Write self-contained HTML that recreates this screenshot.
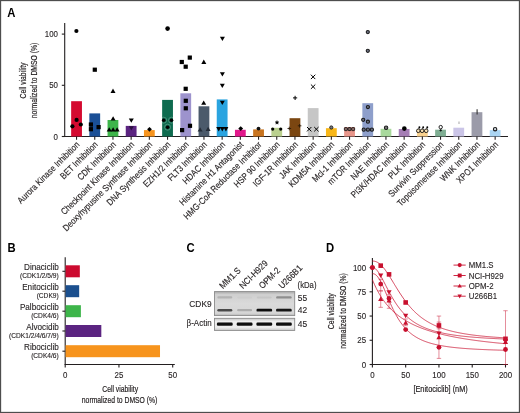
<!DOCTYPE html>
<html><head><meta charset="utf-8"><style>
html,body{margin:0;padding:0;background:#fff;}
svg{display:block;font-family:"Liberation Sans", sans-serif;filter:blur(0.3px);}
text{opacity:0.995;}
</style></head><body>
<svg width="520" height="413" viewBox="0 0 520 413">
<rect width="520" height="413" fill="#fff"/>
<rect x="0.5" y="0.5" width="519" height="412" fill="none" stroke="#4d4d4d" stroke-width="1.3"/>
<text transform="translate(7.30,17.40) scale(0.95,1)" font-size="11.9" text-anchor="start" font-weight="bold" fill="#000" >A</text>
<text transform="translate(7.60,251.70) scale(0.95,1)" font-size="11.9" text-anchor="start" font-weight="bold" fill="#000" >B</text>
<text transform="translate(186.60,251.70) scale(0.95,1)" font-size="11.9" text-anchor="start" font-weight="bold" fill="#000" >C</text>
<text transform="translate(326.10,251.80) scale(0.95,1)" font-size="11.9" text-anchor="start" font-weight="bold" fill="#000" >D</text>
<line x1="64.70" y1="23.00" x2="64.70" y2="137.00" stroke="#231f20" stroke-width="1.1"/>
<line x1="64.20" y1="136.50" x2="508.00" y2="136.50" stroke="#231f20" stroke-width="1.1"/>
<line x1="61.80" y1="136.50" x2="64.70" y2="136.50" stroke="#231f20" stroke-width="1.1"/>
<text transform="translate(58.00,139.50) scale(0.92,1)" font-size="8.6" text-anchor="end" font-weight="normal" fill="#231f20"  stroke="#231f20" stroke-width="0.12">0</text>
<line x1="61.80" y1="85.30" x2="64.70" y2="85.30" stroke="#231f20" stroke-width="1.1"/>
<text transform="translate(58.00,88.30) scale(0.92,1)" font-size="8.6" text-anchor="end" font-weight="normal" fill="#231f20"  stroke="#231f20" stroke-width="0.12">50</text>
<line x1="61.80" y1="34.10" x2="64.70" y2="34.10" stroke="#231f20" stroke-width="1.1"/>
<text transform="translate(58.00,37.10) scale(0.92,1)" font-size="8.6" text-anchor="end" font-weight="normal" fill="#231f20"  stroke="#231f20" stroke-width="0.12">100</text>
<g transform="translate(25.8,80.5) rotate(-90) scale(0.74,1)"><text x="0" y="0" font-size="9.2" text-anchor="middle" fill="#231f20" stroke="#231f20" stroke-width="0.2">Cell viability</text></g>
<g transform="translate(37.2,80.5) rotate(-90) scale(0.74,1)"><text x="0" y="0" font-size="9.2" text-anchor="middle" fill="#231f20" stroke="#231f20" stroke-width="0.2">normalized to DMSO (%)</text></g>
<rect x="71.15" y="101.20" width="10.8" height="35.30" fill="#d40a30"/>
<rect x="89.35" y="113.40" width="10.8" height="23.10" fill="#1a4f96"/>
<rect x="107.55" y="120.00" width="10.8" height="16.50" fill="#3db54a"/>
<rect x="125.75" y="125.90" width="10.8" height="10.60" fill="#5b2481"/>
<rect x="143.95" y="130.10" width="10.8" height="6.40" fill="#f7941d"/>
<rect x="162.15" y="99.90" width="10.8" height="36.60" fill="#0e6b4f"/>
<rect x="180.35" y="93.30" width="10.8" height="43.20" fill="#9d93cd"/>
<rect x="198.55" y="106.30" width="10.8" height="30.20" fill="#4b5a6b"/>
<rect x="216.75" y="99.40" width="10.8" height="37.10" fill="#2aa4e0"/>
<rect x="234.95" y="129.80" width="10.8" height="6.70" fill="#e2188c"/>
<rect x="253.15" y="129.40" width="10.8" height="7.10" fill="#c8741f"/>
<rect x="271.35" y="127.80" width="10.8" height="8.70" fill="#bad08f"/>
<rect x="289.55" y="118.20" width="10.8" height="18.30" fill="#7b4611"/>
<rect x="307.75" y="108.10" width="10.8" height="28.40" fill="#c6c6c6"/>
<rect x="325.95" y="128.20" width="10.8" height="8.30" fill="#f8b719"/>
<rect x="344.15" y="127.10" width="10.8" height="9.40" fill="#e8968b"/>
<rect x="362.35" y="103.20" width="10.8" height="33.30" fill="#8e9fcb"/>
<rect x="380.55" y="128.80" width="10.8" height="7.70" fill="#a8d99c"/>
<rect x="398.75" y="129.00" width="10.8" height="7.50" fill="#a57db5"/>
<rect x="416.95" y="129.60" width="10.8" height="6.90" fill="#fad28f"/>
<rect x="435.15" y="129.70" width="10.8" height="6.80" fill="#7fae93"/>
<rect x="453.35" y="127.70" width="10.8" height="8.80" fill="#cbc5e7"/>
<rect x="471.55" y="112.20" width="10.8" height="24.30" fill="#9b9ba9"/>
<rect x="489.75" y="130.10" width="10.8" height="6.40" fill="#aad5f3"/>
<circle cx="76.4" cy="31.0" r="2.1" fill="#000" stroke="none" stroke-width="0"/>
<circle cx="76.6" cy="119.9" r="2.1" fill="#000" stroke="none" stroke-width="0"/>
<circle cx="72.4" cy="126.3" r="2.1" fill="#000" stroke="none" stroke-width="0"/>
<circle cx="80.8" cy="124.5" r="2.1" fill="#000" stroke="none" stroke-width="0"/>
<rect x="92.70" y="67.60" width="4.2" height="4.2" fill="#000"/>
<rect x="88.80" y="122.40" width="4.2" height="4.2" fill="#000"/>
<rect x="88.80" y="127.10" width="4.2" height="4.2" fill="#000"/>
<rect x="96.50" y="125.00" width="4.2" height="4.2" fill="#000"/>
<path d="M110.50,92.88 L115.50,92.88 L113.00,88.62Z" fill="#000"/>
<path d="M110.60,120.58 L115.60,120.58 L113.10,116.33Z" fill="#000"/>
<path d="M106.70,131.47 L111.70,131.47 L109.20,127.22Z" fill="#000"/>
<path d="M110.60,131.47 L115.60,131.47 L113.10,127.22Z" fill="#000"/>
<path d="M114.60,131.47 L119.60,131.47 L117.10,127.22Z" fill="#000"/>
<path d="M128.80,118.53 L133.80,118.53 L131.30,122.78Z" fill="#000"/>
<path d="M128.80,126.32 L133.80,126.32 L131.30,130.57Z" fill="#2a0f3e"/>
<path d="M149.5,126.9 L151.9,129.3 L149.5,131.70000000000002 L147.1,129.3Z" fill="#000"/>
<circle cx="167.6" cy="28.6" r="2.3" fill="#000" stroke="none" stroke-width="0"/>
<circle cx="163.7" cy="120.2" r="3.0" fill="none" stroke="#fff" stroke-opacity="0.25" stroke-width="0.9"/>
<circle cx="163.7" cy="120.2" r="1.8" fill="#000" stroke="none" stroke-width="0"/>
<circle cx="171.5" cy="120.2" r="3.0" fill="none" stroke="#fff" stroke-opacity="0.25" stroke-width="0.9"/>
<circle cx="171.5" cy="120.2" r="1.8" fill="#000" stroke="none" stroke-width="0"/>
<circle cx="167.6" cy="127.2" r="3.0" fill="none" stroke="#fff" stroke-opacity="0.25" stroke-width="0.9"/>
<circle cx="167.6" cy="127.2" r="1.8" fill="#000" stroke="none" stroke-width="0"/>
<rect x="187.70" y="55.50" width="4.2" height="4.2" fill="#000"/>
<rect x="179.70" y="59.90" width="4.2" height="4.2" fill="#000"/>
<rect x="183.60" y="64.60" width="4.2" height="4.2" fill="#000"/>
<rect x="183.60" y="86.70" width="4.2" height="4.2" fill="#000"/>
<rect x="183.70" y="98.70" width="4.2" height="4.2" fill="#000"/>
<rect x="183.70" y="106.20" width="4.2" height="4.2" fill="#000"/>
<rect x="180.00" y="128.00" width="4.2" height="4.2" fill="#000"/>
<rect x="187.90" y="123.70" width="4.2" height="4.2" fill="#000"/>
<path d="M201.30,63.88 L206.30,63.88 L203.80,59.62Z" fill="#000"/>
<path d="M201.20,104.78 L206.20,104.78 L203.70,100.53Z" fill="#000"/>
<path d="M197.60,131.47 L202.60,131.47 L200.10,127.22Z" fill="#252d38"/>
<path d="M205.60,130.97 L210.60,130.97 L208.10,126.72Z" fill="#252d38"/>
<path d="M219.90,36.73 L224.90,36.73 L222.40,40.98Z" fill="#000"/>
<path d="M219.90,72.22 L224.90,72.22 L222.40,76.47Z" fill="#000"/>
<path d="M219.80,83.83 L224.80,83.83 L222.30,88.08Z" fill="#000"/>
<path d="M219.80,100.72 L224.80,100.72 L222.30,104.97Z" fill="#000"/>
<path d="M216.20,127.12 L221.20,127.12 L218.70,131.38Z" fill="#000"/>
<path d="M219.80,127.12 L224.80,127.12 L222.30,131.38Z" fill="#000"/>
<path d="M223.40,127.12 L228.40,127.12 L225.90,131.38Z" fill="#000"/>
<path d="M240.7,126.19999999999999 L243.1,128.6 L240.7,131.0 L238.29999999999998,128.6Z" fill="#000"/>
<circle cx="258.5" cy="128.6" r="1.9" fill="#111" stroke="none" stroke-width="0"/>
<path d="M277,120.4 L277.55,121.75 L279,121.85 L277.9,122.8 L278.25,124.2 L277,123.45 L275.75,124.2 L276.1,122.8 L275,121.85 L276.45,121.75Z" fill="#000" stroke="#000" stroke-width="0.3"/>
<circle cx="272.7" cy="129.1" r="1.6" fill="#000" stroke="none" stroke-width="0"/>
<circle cx="280.7" cy="129.1" r="1.6" fill="#000" stroke="none" stroke-width="0"/>
<path d="M293.0,97.9 L297.20000000000005,97.9 M295.1,95.80000000000001 L295.1,100.0" stroke="#000" stroke-width="1.0"/>
<path d="M287.5,128.5 L291.1,128.5 M289.3,126.7 L289.3,130.3" stroke="#2a1a08" stroke-width="0.9"/>
<path d="M297.8,125.8 L301.40000000000003,125.8 M299.6,124.0 L299.6,127.6" stroke="#2a1a08" stroke-width="0.9"/>
<path d="M310.90000000000003,74.7 L315.3,79.10000000000001 M310.90000000000003,79.10000000000001 L315.3,74.7" stroke="#000" stroke-width="1.0"/>
<path d="M310.90000000000003,84.5 L315.3,88.9 M310.90000000000003,88.9 L315.3,84.5" stroke="#000" stroke-width="1.0"/>
<path d="M307.0,126.99999999999999 L311.4,131.39999999999998 M307.0,131.39999999999998 L311.4,126.99999999999999" stroke="#000" stroke-width="1.0"/>
<path d="M314.2,126.99999999999999 L318.59999999999997,131.39999999999998 M314.2,131.39999999999998 L318.59999999999997,126.99999999999999" stroke="#000" stroke-width="1.0"/>
<circle cx="331.3" cy="127.5" r="1.6" fill="#777" stroke="#222" stroke-width="1.0"/>
<rect x="344.40" y="127.6" width="3.0" height="3.0" rx="0.8" fill="#8a6a66" stroke="#1a1a1a" stroke-width="1.0"/>
<rect x="348.00" y="127.6" width="3.0" height="3.0" rx="0.8" fill="#8a6a66" stroke="#1a1a1a" stroke-width="1.0"/>
<rect x="351.60" y="127.6" width="3.0" height="3.0" rx="0.8" fill="#8a6a66" stroke="#1a1a1a" stroke-width="1.0"/>
<circle cx="367.8" cy="32.1" r="1.6" fill="#6b6f80" stroke="#1a1a1a" stroke-width="1.05"/>
<circle cx="367.8" cy="50.8" r="1.6" fill="#6b6f80" stroke="#1a1a1a" stroke-width="1.05"/>
<circle cx="367.9" cy="107.0" r="1.6" fill="#6b6f80" stroke="#1a1a1a" stroke-width="1.05"/>
<circle cx="363.2" cy="119.8" r="1.6" fill="#6b6f80" stroke="#1a1a1a" stroke-width="1.05"/>
<circle cx="367.9" cy="121.7" r="1.6" fill="#6b6f80" stroke="#1a1a1a" stroke-width="1.05"/>
<circle cx="363.7" cy="129.7" r="1.6" fill="#6b6f80" stroke="#1a1a1a" stroke-width="1.05"/>
<circle cx="367.9" cy="129.7" r="1.6" fill="#6b6f80" stroke="#1a1a1a" stroke-width="1.05"/>
<circle cx="371.9" cy="129.7" r="1.6" fill="#6b6f80" stroke="#1a1a1a" stroke-width="1.05"/>
<circle cx="386.1" cy="127.7" r="1.7" fill="#777" stroke="#1a1a1a" stroke-width="1.05"/>
<circle cx="404.3" cy="128.6" r="2.3" fill="#000" stroke="none" stroke-width="0"/>
<circle cx="418.3" cy="130.8" r="1.8" fill="#fbe3b5" stroke="#1a1a1a" stroke-width="0.95"/>
<path d="M418.8,129.0 L419.40000000000003,127.4" stroke="#1a1a1a" stroke-width="0.9"/>
<circle cx="419.40000000000003" cy="127.2" r="0.95" fill="#000" stroke="none" stroke-width="0"/>
<circle cx="422.1" cy="130.8" r="1.8" fill="#fbe3b5" stroke="#1a1a1a" stroke-width="0.95"/>
<path d="M422.6,129.0 L423.20000000000005,127.4" stroke="#1a1a1a" stroke-width="0.9"/>
<circle cx="423.20000000000005" cy="127.2" r="0.95" fill="#000" stroke="none" stroke-width="0"/>
<circle cx="426.2" cy="130.8" r="1.8" fill="#fbe3b5" stroke="#1a1a1a" stroke-width="0.95"/>
<path d="M426.7,129.0 L427.3,127.4" stroke="#1a1a1a" stroke-width="0.9"/>
<circle cx="427.3" cy="127.2" r="0.95" fill="#000" stroke="none" stroke-width="0"/>
<circle cx="440.7" cy="127.1" r="1.7" fill="#fff" stroke="#111" stroke-width="0.9"/>
<path d="M439.4,130.3 L442.0,130.3 M440.7,129.0 L440.7,131.60000000000002" stroke="#000" stroke-width="0.8"/>
<line x1="459.00" y1="121.40" x2="459.00" y2="123.90" stroke="#b5b5b5" stroke-width="1.2"/>
<line x1="477.10" y1="109.30" x2="477.10" y2="114.60" stroke="#333" stroke-width="1.1"/>
<circle cx="495.1" cy="129.2" r="1.7" fill="#cfd8e0" stroke="#1a1a1a" stroke-width="1.1"/>
<line x1="76.55" y1="136.50" x2="76.55" y2="139.80" stroke="#231f20" stroke-width="1.1"/>
<text transform="translate(80.15,145.20) rotate(-45) scale(0.865,1)" font-size="9.1" text-anchor="end" fill="#231f20" stroke="#231f20" stroke-width="0.15">Aurora Kinase Inhibition</text>
<line x1="94.75" y1="136.50" x2="94.75" y2="139.80" stroke="#231f20" stroke-width="1.1"/>
<text transform="translate(98.35,145.20) rotate(-45) scale(0.865,1)" font-size="9.1" text-anchor="end" fill="#231f20" stroke="#231f20" stroke-width="0.15">BET Inhibition</text>
<line x1="112.95" y1="136.50" x2="112.95" y2="139.80" stroke="#231f20" stroke-width="1.1"/>
<text transform="translate(116.55,145.20) rotate(-45) scale(0.865,1)" font-size="9.1" text-anchor="end" fill="#231f20" stroke="#231f20" stroke-width="0.15">CDK Inhibition</text>
<line x1="131.15" y1="136.50" x2="131.15" y2="139.80" stroke="#231f20" stroke-width="1.1"/>
<text transform="translate(134.75,145.20) rotate(-45) scale(0.865,1)" font-size="9.1" text-anchor="end" fill="#231f20" stroke="#231f20" stroke-width="0.15">Checkpoint Kinase Inhibition</text>
<line x1="149.35" y1="136.50" x2="149.35" y2="139.80" stroke="#231f20" stroke-width="1.1"/>
<text transform="translate(152.95,145.20) rotate(-45) scale(0.865,1)" font-size="9.1" text-anchor="end" fill="#231f20" stroke="#231f20" stroke-width="0.15">Deoxyhypusine Synthase Inhibition</text>
<line x1="167.55" y1="136.50" x2="167.55" y2="139.80" stroke="#231f20" stroke-width="1.1"/>
<text transform="translate(171.15,145.20) rotate(-45) scale(0.865,1)" font-size="9.1" text-anchor="end" fill="#231f20" stroke="#231f20" stroke-width="0.15">DNA Synthesis Inhibition</text>
<line x1="185.75" y1="136.50" x2="185.75" y2="139.80" stroke="#231f20" stroke-width="1.1"/>
<text transform="translate(189.35,145.20) rotate(-45) scale(0.865,1)" font-size="9.1" text-anchor="end" fill="#231f20" stroke="#231f20" stroke-width="0.15">EZH1/2 Inhibition</text>
<line x1="203.95" y1="136.50" x2="203.95" y2="139.80" stroke="#231f20" stroke-width="1.1"/>
<text transform="translate(207.55,145.20) rotate(-45) scale(0.865,1)" font-size="9.1" text-anchor="end" fill="#231f20" stroke="#231f20" stroke-width="0.15">FLT3 Inhibition</text>
<line x1="222.15" y1="136.50" x2="222.15" y2="139.80" stroke="#231f20" stroke-width="1.1"/>
<text transform="translate(225.75,145.20) rotate(-45) scale(0.865,1)" font-size="9.1" text-anchor="end" fill="#231f20" stroke="#231f20" stroke-width="0.15">HDAC Inhibition</text>
<line x1="240.35" y1="136.50" x2="240.35" y2="139.80" stroke="#231f20" stroke-width="1.1"/>
<text transform="translate(243.95,145.20) rotate(-45) scale(0.865,1)" font-size="9.1" text-anchor="end" fill="#231f20" stroke="#231f20" stroke-width="0.15">Histamine H1 Antagonist</text>
<line x1="258.55" y1="136.50" x2="258.55" y2="139.80" stroke="#231f20" stroke-width="1.1"/>
<text transform="translate(262.15,145.20) rotate(-45) scale(0.865,1)" font-size="9.1" text-anchor="end" fill="#231f20" stroke="#231f20" stroke-width="0.15">HMG-CoA Reductase Inhibitor</text>
<line x1="276.75" y1="136.50" x2="276.75" y2="139.80" stroke="#231f20" stroke-width="1.1"/>
<text transform="translate(280.35,145.20) rotate(-45) scale(0.865,1)" font-size="9.1" text-anchor="end" fill="#231f20" stroke="#231f20" stroke-width="0.15">HSP 90 Inhibition</text>
<line x1="294.95" y1="136.50" x2="294.95" y2="139.80" stroke="#231f20" stroke-width="1.1"/>
<text transform="translate(298.55,145.20) rotate(-45) scale(0.865,1)" font-size="9.1" text-anchor="end" fill="#231f20" stroke="#231f20" stroke-width="0.15">IGF-1R Inhibition</text>
<line x1="313.15" y1="136.50" x2="313.15" y2="139.80" stroke="#231f20" stroke-width="1.1"/>
<text transform="translate(316.75,145.20) rotate(-45) scale(0.865,1)" font-size="9.1" text-anchor="end" fill="#231f20" stroke="#231f20" stroke-width="0.15">JAK Inhibition</text>
<line x1="331.35" y1="136.50" x2="331.35" y2="139.80" stroke="#231f20" stroke-width="1.1"/>
<text transform="translate(334.95,145.20) rotate(-45) scale(0.865,1)" font-size="9.1" text-anchor="end" fill="#231f20" stroke="#231f20" stroke-width="0.15">KDM5A Inhibition</text>
<line x1="349.55" y1="136.50" x2="349.55" y2="139.80" stroke="#231f20" stroke-width="1.1"/>
<text transform="translate(353.15,145.20) rotate(-45) scale(0.865,1)" font-size="9.1" text-anchor="end" fill="#231f20" stroke="#231f20" stroke-width="0.15">Mcl-1 Inhibition</text>
<line x1="367.75" y1="136.50" x2="367.75" y2="139.80" stroke="#231f20" stroke-width="1.1"/>
<text transform="translate(371.35,145.20) rotate(-45) scale(0.865,1)" font-size="9.1" text-anchor="end" fill="#231f20" stroke="#231f20" stroke-width="0.15">mTOR Inhibition</text>
<line x1="385.95" y1="136.50" x2="385.95" y2="139.80" stroke="#231f20" stroke-width="1.1"/>
<text transform="translate(389.55,145.20) rotate(-45) scale(0.865,1)" font-size="9.1" text-anchor="end" fill="#231f20" stroke="#231f20" stroke-width="0.15">NAE Inhibition</text>
<line x1="404.15" y1="136.50" x2="404.15" y2="139.80" stroke="#231f20" stroke-width="1.1"/>
<text transform="translate(407.75,145.20) rotate(-45) scale(0.865,1)" font-size="9.1" text-anchor="end" fill="#231f20" stroke="#231f20" stroke-width="0.15">PI3K/HDAC Inhibition</text>
<line x1="422.35" y1="136.50" x2="422.35" y2="139.80" stroke="#231f20" stroke-width="1.1"/>
<text transform="translate(425.95,145.20) rotate(-45) scale(0.865,1)" font-size="9.1" text-anchor="end" fill="#231f20" stroke="#231f20" stroke-width="0.15">PLK Inhibition</text>
<line x1="440.55" y1="136.50" x2="440.55" y2="139.80" stroke="#231f20" stroke-width="1.1"/>
<text transform="translate(444.15,145.20) rotate(-45) scale(0.865,1)" font-size="9.1" text-anchor="end" fill="#231f20" stroke="#231f20" stroke-width="0.15">Survivin Suppression</text>
<line x1="458.75" y1="136.50" x2="458.75" y2="139.80" stroke="#231f20" stroke-width="1.1"/>
<text transform="translate(462.35,145.20) rotate(-45) scale(0.865,1)" font-size="9.1" text-anchor="end" fill="#231f20" stroke="#231f20" stroke-width="0.15">Topoisomerase Inhibition</text>
<line x1="476.95" y1="136.50" x2="476.95" y2="139.80" stroke="#231f20" stroke-width="1.1"/>
<text transform="translate(480.55,145.20) rotate(-45) scale(0.865,1)" font-size="9.1" text-anchor="end" fill="#231f20" stroke="#231f20" stroke-width="0.15">WNK Inhibition</text>
<line x1="495.15" y1="136.50" x2="495.15" y2="139.80" stroke="#231f20" stroke-width="1.1"/>
<text transform="translate(498.75,145.20) rotate(-45) scale(0.865,1)" font-size="9.1" text-anchor="end" fill="#231f20" stroke="#231f20" stroke-width="0.15">XPO1 Inhibition</text>
<line x1="65.20" y1="257.30" x2="65.20" y2="365.00" stroke="#231f20" stroke-width="1.1"/>
<line x1="64.70" y1="364.50" x2="174.80" y2="364.50" stroke="#231f20" stroke-width="1.1"/>
<rect x="65.60" y="265.30" width="14.22" height="12" fill="#cc0a2f"/>
<line x1="62.40" y1="271.30" x2="65.20" y2="271.30" stroke="#231f20" stroke-width="1.1"/>
<text transform="translate(58.90,269.90) scale(0.95,1)" font-size="8.6" text-anchor="end" font-weight="normal" fill="#231f20"  stroke="#231f20" stroke-width="0.12">Dinaciclib</text>
<text transform="translate(58.70,277.90) scale(0.96,1)" font-size="6.9" text-anchor="end" font-weight="normal" fill="#231f20"  stroke="#231f20" stroke-width="0.12">(CDK1/2/5/9)</text>
<rect x="65.60" y="285.20" width="13.57" height="12" fill="#1b4f8e"/>
<line x1="62.40" y1="291.20" x2="65.20" y2="291.20" stroke="#231f20" stroke-width="1.1"/>
<text transform="translate(58.90,289.80) scale(0.95,1)" font-size="8.6" text-anchor="end" font-weight="normal" fill="#231f20"  stroke="#231f20" stroke-width="0.12">Enitociclib</text>
<text transform="translate(58.70,297.80) scale(0.96,1)" font-size="6.9" text-anchor="end" font-weight="normal" fill="#231f20"  stroke="#231f20" stroke-width="0.12">(CDK9)</text>
<rect x="65.60" y="305.20" width="15.29" height="12" fill="#3db54a"/>
<line x1="62.40" y1="311.20" x2="65.20" y2="311.20" stroke="#231f20" stroke-width="1.1"/>
<text transform="translate(58.90,309.80) scale(0.95,1)" font-size="8.6" text-anchor="end" font-weight="normal" fill="#231f20"  stroke="#231f20" stroke-width="0.12">Palbociclib</text>
<text transform="translate(58.70,317.80) scale(0.96,1)" font-size="6.9" text-anchor="end" font-weight="normal" fill="#231f20"  stroke="#231f20" stroke-width="0.12">(CDK4/6)</text>
<rect x="65.60" y="325.00" width="35.72" height="12" fill="#5b2481"/>
<line x1="62.40" y1="331.00" x2="65.20" y2="331.00" stroke="#231f20" stroke-width="1.1"/>
<text transform="translate(58.90,329.60) scale(0.95,1)" font-size="8.6" text-anchor="end" font-weight="normal" fill="#231f20"  stroke="#231f20" stroke-width="0.12">Alvocidib</text>
<text transform="translate(58.70,337.60) scale(0.96,1)" font-size="6.9" text-anchor="end" font-weight="normal" fill="#231f20"  stroke="#231f20" stroke-width="0.12">(CDK1/2/4/6/7/9)</text>
<rect x="65.60" y="345.20" width="94.41" height="12" fill="#f7941d"/>
<line x1="62.40" y1="351.20" x2="65.20" y2="351.20" stroke="#231f20" stroke-width="1.1"/>
<text transform="translate(58.90,349.80) scale(0.95,1)" font-size="8.6" text-anchor="end" font-weight="normal" fill="#231f20"  stroke="#231f20" stroke-width="0.12">Ribociclib</text>
<text transform="translate(58.70,357.80) scale(0.96,1)" font-size="6.9" text-anchor="end" font-weight="normal" fill="#231f20"  stroke="#231f20" stroke-width="0.12">(CDK4/6)</text>
<line x1="65.20" y1="364.50" x2="65.20" y2="367.50" stroke="#231f20" stroke-width="1.1"/>
<text transform="translate(65.20,378.40) scale(0.92,1)" font-size="8.6" text-anchor="middle" font-weight="normal" fill="#231f20"  stroke="#231f20" stroke-width="0.12">0</text>
<line x1="118.95" y1="364.50" x2="118.95" y2="367.50" stroke="#231f20" stroke-width="1.1"/>
<text transform="translate(118.95,378.40) scale(0.92,1)" font-size="8.6" text-anchor="middle" font-weight="normal" fill="#231f20"  stroke="#231f20" stroke-width="0.12">25</text>
<line x1="172.70" y1="364.50" x2="172.70" y2="367.50" stroke="#231f20" stroke-width="1.1"/>
<text transform="translate(172.70,378.40) scale(0.92,1)" font-size="8.6" text-anchor="middle" font-weight="normal" fill="#231f20"  stroke="#231f20" stroke-width="0.12">50</text>
<g transform="translate(120.2,392) scale(0.74,1)"><text x="0" y="0" font-size="9.2" text-anchor="middle" fill="#231f20" stroke="#231f20" stroke-width="0.2">Cell viability</text></g>
<g transform="translate(119.6,403.1) scale(0.74,1)"><text x="0" y="0" font-size="9.2" text-anchor="middle" fill="#231f20" stroke="#231f20" stroke-width="0.2">normalized to DMSO (%)</text></g>
<defs><linearGradient id="bg1" x1="0" y1="0" x2="0" y2="1"><stop offset="0" stop-color="#a9a9a9"/><stop offset="0.12" stop-color="#cfcfcf"/><stop offset="0.5" stop-color="#dadada"/><stop offset="0.9" stop-color="#d6d6d6"/><stop offset="1" stop-color="#b5b5b5"/></linearGradient><linearGradient id="bg2" x1="0" y1="0" x2="0" y2="1"><stop offset="0" stop-color="#c4c4c4"/><stop offset="0.25" stop-color="#eeeeee"/><stop offset="0.75" stop-color="#ececec"/><stop offset="1" stop-color="#c8c8c8"/></linearGradient><filter id="bl" x="-20%" y="-150%" width="140%" height="400%"><feGaussianBlur stdDeviation="0.5"/></filter></defs>
<rect x="214.5" y="291.6" width="80.2" height="24" fill="url(#bg1)" stroke="#8a8a8a" stroke-width="0.9"/>
<rect x="214.5" y="318.3" width="80.2" height="12.1" fill="url(#bg2)" stroke="#8a8a8a" stroke-width="0.9"/>
<rect x="217.30" y="296.30" width="15" height="2.2" rx="1.1" fill="#b3b3b3" opacity="1" filter="url(#bl)"/>
<rect x="237.10" y="296.40" width="15" height="2.0" rx="1.0" fill="#cdcdcd" opacity="1" filter="url(#bl)"/>
<rect x="256.80" y="296.40" width="15" height="2.0" rx="1.0" fill="#c6c6c6" opacity="1" filter="url(#bl)"/>
<rect x="276.15" y="296.20" width="15.5" height="2.4" rx="1.2" fill="#8e8e8e" opacity="1" filter="url(#bl)"/>
<rect x="217.30" y="309.00" width="15" height="2.4" rx="1.2" fill="#4a4a4a" opacity="1" filter="url(#bl)"/>
<rect x="237.10" y="309.10" width="15" height="2.2" rx="1.1" fill="#acacac" opacity="1" filter="url(#bl)"/>
<rect x="256.50" y="308.80" width="15.6" height="2.8" rx="1.2" fill="#111" opacity="1" filter="url(#bl)"/>
<rect x="276.10" y="308.80" width="15.6" height="2.8" rx="1.2" fill="#141414" opacity="1" filter="url(#bl)"/>
<rect x="216.90" y="322.60" width="15.8" height="3.2" rx="1.2" fill="#0c0c0c" opacity="1" filter="url(#bl)"/>
<rect x="236.70" y="322.60" width="15.8" height="3.2" rx="1.2" fill="#0c0c0c" opacity="1" filter="url(#bl)"/>
<rect x="256.40" y="322.60" width="15.8" height="3.2" rx="1.2" fill="#0c0c0c" opacity="1" filter="url(#bl)"/>
<rect x="276.00" y="322.60" width="15.8" height="3.2" rx="1.2" fill="#0c0c0c" opacity="1" filter="url(#bl)"/>
<text transform="translate(211.60,306.60) scale(0.97,1)" font-size="8.6" text-anchor="end" font-weight="normal" fill="#231f20"  stroke="#231f20" stroke-width="0.12">CDK9</text>
<text transform="translate(211.60,325.80) scale(0.93,1)" font-size="8.6" text-anchor="end" font-weight="normal" fill="#231f20"  stroke="#231f20" stroke-width="0.12">β-Actin</text>
<text transform="translate(297.60,287.60) scale(0.9,1)" font-size="8.6" text-anchor="start" font-weight="normal" fill="#231f20"  stroke="#231f20" stroke-width="0.12">(kDa)</text>
<text transform="translate(297.70,300.80) scale(0.98,1)" font-size="8.6" text-anchor="start" font-weight="normal" fill="#231f20"  stroke="#231f20" stroke-width="0.12">55</text>
<text transform="translate(297.70,312.80) scale(0.98,1)" font-size="8.6" text-anchor="start" font-weight="normal" fill="#231f20"  stroke="#231f20" stroke-width="0.12">42</text>
<text transform="translate(297.70,327.40) scale(0.98,1)" font-size="8.6" text-anchor="start" font-weight="normal" fill="#231f20"  stroke="#231f20" stroke-width="0.12">45</text>
<text transform="translate(223.10,289.3) rotate(-45) scale(0.9,1)" font-size="9" fill="#231f20" stroke="#231f20" stroke-width="0.15">MM1.S</text>
<text transform="translate(242.90,289.3) rotate(-45) scale(0.9,1)" font-size="9" fill="#231f20" stroke="#231f20" stroke-width="0.15">NCI-H929</text>
<text transform="translate(262.60,289.3) rotate(-45) scale(0.9,1)" font-size="9" fill="#231f20" stroke="#231f20" stroke-width="0.15">OPM-2</text>
<text transform="translate(282.20,289.3) rotate(-45) scale(0.9,1)" font-size="9" fill="#231f20" stroke="#231f20" stroke-width="0.15">U266B1</text>
<line x1="372.40" y1="257.90" x2="372.40" y2="365.00" stroke="#231f20" stroke-width="1.1"/>
<line x1="371.90" y1="364.50" x2="508.00" y2="364.50" stroke="#231f20" stroke-width="1.1"/>
<line x1="369.60" y1="364.50" x2="372.40" y2="364.50" stroke="#231f20" stroke-width="1.1"/>
<text transform="translate(366.10,367.50) scale(0.92,1)" font-size="8.6" text-anchor="end" font-weight="normal" fill="#231f20"  stroke="#231f20" stroke-width="0.12">0</text>
<line x1="369.60" y1="340.27" x2="372.40" y2="340.27" stroke="#231f20" stroke-width="1.1"/>
<text transform="translate(366.10,343.27) scale(0.92,1)" font-size="8.6" text-anchor="end" font-weight="normal" fill="#231f20"  stroke="#231f20" stroke-width="0.12">25</text>
<line x1="369.60" y1="316.05" x2="372.40" y2="316.05" stroke="#231f20" stroke-width="1.1"/>
<text transform="translate(366.10,319.05) scale(0.92,1)" font-size="8.6" text-anchor="end" font-weight="normal" fill="#231f20"  stroke="#231f20" stroke-width="0.12">50</text>
<line x1="369.60" y1="291.82" x2="372.40" y2="291.82" stroke="#231f20" stroke-width="1.1"/>
<text transform="translate(366.10,294.82) scale(0.92,1)" font-size="8.6" text-anchor="end" font-weight="normal" fill="#231f20"  stroke="#231f20" stroke-width="0.12">75</text>
<line x1="369.60" y1="267.60" x2="372.40" y2="267.60" stroke="#231f20" stroke-width="1.1"/>
<text transform="translate(366.10,270.60) scale(0.92,1)" font-size="8.6" text-anchor="end" font-weight="normal" fill="#231f20"  stroke="#231f20" stroke-width="0.12">100</text>
<line x1="372.40" y1="364.50" x2="372.40" y2="367.50" stroke="#231f20" stroke-width="1.1"/>
<text transform="translate(372.40,378.40) scale(0.92,1)" font-size="8.6" text-anchor="middle" font-weight="normal" fill="#231f20"  stroke="#231f20" stroke-width="0.12">0</text>
<line x1="405.67" y1="364.50" x2="405.67" y2="367.50" stroke="#231f20" stroke-width="1.1"/>
<text transform="translate(405.67,378.40) scale(0.92,1)" font-size="8.6" text-anchor="middle" font-weight="normal" fill="#231f20"  stroke="#231f20" stroke-width="0.12">50</text>
<line x1="438.95" y1="364.50" x2="438.95" y2="367.50" stroke="#231f20" stroke-width="1.1"/>
<text transform="translate(438.95,378.40) scale(0.92,1)" font-size="8.6" text-anchor="middle" font-weight="normal" fill="#231f20"  stroke="#231f20" stroke-width="0.12">100</text>
<line x1="472.22" y1="364.50" x2="472.22" y2="367.50" stroke="#231f20" stroke-width="1.1"/>
<text transform="translate(472.22,378.40) scale(0.92,1)" font-size="8.6" text-anchor="middle" font-weight="normal" fill="#231f20"  stroke="#231f20" stroke-width="0.12">150</text>
<line x1="505.50" y1="364.50" x2="505.50" y2="367.50" stroke="#231f20" stroke-width="1.1"/>
<text transform="translate(505.50,378.40) scale(0.92,1)" font-size="8.6" text-anchor="middle" font-weight="normal" fill="#231f20"  stroke="#231f20" stroke-width="0.12">200</text>
<g transform="translate(333.9,311.2) rotate(-90) scale(0.74,1)"><text x="0" y="0" font-size="9.2" text-anchor="middle" fill="#231f20" stroke="#231f20" stroke-width="0.2">Cell viability</text></g>
<g transform="translate(345.9,311.0) rotate(-90) scale(0.74,1)"><text x="0" y="0" font-size="9.2" text-anchor="middle" fill="#231f20" stroke="#231f20" stroke-width="0.2">normalized to DMSO (%)</text></g>
<g transform="translate(440.6,391.5) scale(0.8,1)"><text x="0" y="0" font-size="9.2" text-anchor="middle" fill="#231f20" stroke="#231f20" stroke-width="0.2">[Enitociclib] (nM)</text></g>
<polyline points="372.40,273.65 373.07,273.68 373.74,273.81 374.41,274.04 375.08,274.38 375.74,274.84 376.41,275.41 377.08,276.09 377.75,276.89 378.42,277.79 379.09,278.80 379.76,279.90 380.43,281.09 381.09,282.36 381.76,283.69 382.43,285.09 383.10,286.55 383.77,288.04 384.44,289.57 385.11,291.12 385.78,292.70 386.45,294.28 387.11,295.86 387.78,297.45 388.45,299.02 389.12,300.57 389.79,302.11 390.46,303.62 391.13,305.11 391.80,306.56 392.47,307.99 393.13,309.38 393.80,310.73 394.47,312.05 395.14,313.33 395.81,314.57 396.48,315.77 397.15,316.93 397.82,318.06 398.48,319.14 399.15,320.19 399.82,321.21 400.49,322.19 401.16,323.13 401.83,324.04 402.50,324.91 403.17,325.76 403.84,326.57 404.50,327.35 405.17,328.10 405.84,328.83 406.51,329.53 407.18,330.20 407.85,330.85 408.52,331.47 409.19,332.07 409.86,332.65 410.52,333.20 411.19,333.74 411.86,334.25 412.53,334.75 413.20,335.23 413.87,335.69 414.54,336.14 415.21,336.56 415.87,336.98 416.54,337.38 417.21,337.76 417.88,338.13 418.55,338.49 419.22,338.83 419.89,339.17 420.56,339.49 421.23,339.80 421.89,340.10 422.56,340.39 423.23,340.67 423.90,340.94 424.57,341.21 425.24,341.46 425.91,341.70 426.58,341.94 427.25,342.17 427.91,342.40 428.58,342.61 429.25,342.82 429.92,343.02 430.59,343.22 431.26,343.41 431.93,343.59 432.60,343.77 433.26,343.94 433.93,344.11 434.60,344.28 435.27,344.44 435.94,344.59 436.61,344.74 437.28,344.88 437.95,345.02 438.62,345.16 439.28,345.29 439.95,345.42 440.62,345.55 441.29,345.67 441.96,345.79 442.63,345.91 443.30,346.02 443.97,346.13 444.64,346.24 445.30,346.34 445.97,346.44 446.64,346.54 447.31,346.64 447.98,346.73 448.65,346.82 449.32,346.91 449.99,347.00 450.65,347.08 451.32,347.17 451.99,347.25 452.66,347.32 453.33,347.40 454.00,347.48 454.67,347.55 455.34,347.62 456.01,347.69 456.67,347.76 457.34,347.82 458.01,347.89 458.68,347.95 459.35,348.01 460.02,348.08 460.69,348.13 461.36,348.19 462.03,348.25 462.69,348.30 463.36,348.36 464.03,348.41 464.70,348.46 465.37,348.51 466.04,348.56 466.71,348.61 467.38,348.66 468.04,348.71 468.71,348.75 469.38,348.80 470.05,348.84 470.72,348.88 471.39,348.92 472.06,348.97 472.73,349.01 473.40,349.05 474.06,349.08 474.73,349.12 475.40,349.16 476.07,349.20 476.74,349.23 477.41,349.27 478.08,349.30 478.75,349.33 479.42,349.37 480.08,349.40 480.75,349.43 481.42,349.46 482.09,349.49 482.76,349.52 483.43,349.55 484.10,349.58 484.77,349.61 485.43,349.64 486.10,349.67 486.77,349.69 487.44,349.72 488.11,349.75 488.78,349.77 489.45,349.80 490.12,349.82 490.79,349.84 491.45,349.87 492.12,349.89 492.79,349.91 493.46,349.94 494.13,349.96 494.80,349.98 495.47,350.00 496.14,350.02 496.81,350.04 497.47,350.07 498.14,350.09 498.81,350.11 499.48,350.12 500.15,350.14 500.82,350.16 501.49,350.18 502.16,350.20 502.82,350.22 503.49,350.24 504.16,350.25 504.83,350.27 505.50,350.29" fill="none" stroke="#c8102e" stroke-width="0.8" opacity="0.95"/>
<polyline points="372.40,261.06 373.07,261.07 373.74,261.13 374.41,261.23 375.08,261.38 375.74,261.58 376.41,261.83 377.08,262.14 377.75,262.50 378.42,262.92 379.09,263.39 379.76,263.91 380.43,264.49 381.09,265.12 381.76,265.79 382.43,266.51 383.10,267.28 383.77,268.08 384.44,268.93 385.11,269.81 385.78,270.73 386.45,271.68 387.11,272.65 387.78,273.66 388.45,274.68 389.12,275.72 389.79,276.78 390.46,277.86 391.13,278.94 391.80,280.03 392.47,281.13 393.13,282.24 393.80,283.34 394.47,284.44 395.14,285.54 395.81,286.64 396.48,287.73 397.15,288.81 397.82,289.89 398.48,290.95 399.15,292.00 399.82,293.04 400.49,294.06 401.16,295.07 401.83,296.06 402.50,297.04 403.17,298.00 403.84,298.94 404.50,299.87 405.17,300.78 405.84,301.67 406.51,302.54 407.18,303.40 407.85,304.24 408.52,305.05 409.19,305.85 409.86,306.64 410.52,307.40 411.19,308.15 411.86,308.88 412.53,309.59 413.20,310.29 413.87,310.97 414.54,311.63 415.21,312.27 415.87,312.90 416.54,313.52 417.21,314.12 417.88,314.70 418.55,315.27 419.22,315.83 419.89,316.37 420.56,316.89 421.23,317.41 421.89,317.91 422.56,318.40 423.23,318.87 423.90,319.34 424.57,319.79 425.24,320.23 425.91,320.66 426.58,321.08 427.25,321.48 427.91,321.88 428.58,322.27 429.25,322.65 429.92,323.01 430.59,323.37 431.26,323.72 431.93,324.06 432.60,324.40 433.26,324.72 433.93,325.04 434.60,325.34 435.27,325.65 435.94,325.94 436.61,326.23 437.28,326.51 437.95,326.78 438.62,327.04 439.28,327.30 439.95,327.56 440.62,327.81 441.29,328.05 441.96,328.28 442.63,328.51 443.30,328.74 443.97,328.96 444.64,329.17 445.30,329.38 445.97,329.59 446.64,329.79 447.31,329.98 447.98,330.18 448.65,330.36 449.32,330.55 449.99,330.72 450.65,330.90 451.32,331.07 451.99,331.24 452.66,331.40 453.33,331.56 454.00,331.72 454.67,331.87 455.34,332.02 456.01,332.17 456.67,332.31 457.34,332.45 458.01,332.59 458.68,332.72 459.35,332.85 460.02,332.98 460.69,333.11 461.36,333.23 462.03,333.36 462.69,333.47 463.36,333.59 464.03,333.71 464.70,333.82 465.37,333.93 466.04,334.03 466.71,334.14 467.38,334.24 468.04,334.34 468.71,334.44 469.38,334.54 470.05,334.64 470.72,334.73 471.39,334.82 472.06,334.91 472.73,335.00 473.40,335.09 474.06,335.17 474.73,335.26 475.40,335.34 476.07,335.42 476.74,335.50 477.41,335.58 478.08,335.65 478.75,335.73 479.42,335.80 480.08,335.87 480.75,335.94 481.42,336.01 482.09,336.08 482.76,336.15 483.43,336.21 484.10,336.28 484.77,336.34 485.43,336.41 486.10,336.47 486.77,336.53 487.44,336.59 488.11,336.65 488.78,336.70 489.45,336.76 490.12,336.82 490.79,336.87 491.45,336.93 492.12,336.98 492.79,337.03 493.46,337.08 494.13,337.13 494.80,337.18 495.47,337.23 496.14,337.28 496.81,337.33 497.47,337.37 498.14,337.42 498.81,337.46 499.48,337.51 500.15,337.55 500.82,337.59 501.49,337.64 502.16,337.68 502.82,337.72 503.49,337.76 504.16,337.80 504.83,337.84 505.50,337.88" fill="none" stroke="#c8102e" stroke-width="0.8" opacity="0.95"/>
<polyline points="372.40,279.64 373.07,281.25 373.74,282.83 374.41,284.34 375.08,285.80 375.74,287.21 376.41,288.57 377.08,289.88 377.75,291.14 378.42,292.35 379.09,293.53 379.76,294.67 380.43,295.76 381.09,296.82 381.76,297.85 382.43,298.84 383.10,299.80 383.77,300.74 384.44,301.64 385.11,302.51 385.78,303.36 386.45,304.19 387.11,304.99 387.78,305.76 388.45,306.52 389.12,307.25 389.79,307.97 390.46,308.66 391.13,309.34 391.80,310.00 392.47,310.64 393.13,311.26 393.80,311.87 394.47,312.46 395.14,313.04 395.81,313.60 396.48,314.15 397.15,314.69 397.82,315.21 398.48,315.73 399.15,316.23 399.82,316.71 400.49,317.19 401.16,317.66 401.83,318.11 402.50,318.56 403.17,319.00 403.84,319.42 404.50,319.84 405.17,320.25 405.84,320.65 406.51,321.04 407.18,321.43 407.85,321.80 408.52,322.17 409.19,322.54 409.86,322.89 410.52,323.24 411.19,323.58 411.86,323.91 412.53,324.24 413.20,324.56 413.87,324.88 414.54,325.19 415.21,325.49 415.87,325.79 416.54,326.09 417.21,326.38 417.88,326.66 418.55,326.94 419.22,327.21 419.89,327.48 420.56,327.74 421.23,328.00 421.89,328.26 422.56,328.51 423.23,328.76 423.90,329.00 424.57,329.24 425.24,329.48 425.91,329.71 426.58,329.94 427.25,330.16 427.91,330.38 428.58,330.60 429.25,330.81 429.92,331.02 430.59,331.23 431.26,331.44 431.93,331.64 432.60,331.84 433.26,332.03 433.93,332.22 434.60,332.41 435.27,332.60 435.94,332.79 436.61,332.97 437.28,333.15 437.95,333.32 438.62,333.50 439.28,333.67 439.95,333.84 440.62,334.01 441.29,334.17 441.96,334.34 442.63,334.50 443.30,334.66 443.97,334.81 444.64,334.97 445.30,335.12 445.97,335.27 446.64,335.42 447.31,335.56 447.98,335.71 448.65,335.85 449.32,335.99 449.99,336.13 450.65,336.27 451.32,336.41 451.99,336.54 452.66,336.67 453.33,336.81 454.00,336.94 454.67,337.06 455.34,337.19 456.01,337.32 456.67,337.44 457.34,337.56 458.01,337.68 458.68,337.80 459.35,337.92 460.02,338.04 460.69,338.15 461.36,338.27 462.03,338.38 462.69,338.49 463.36,338.60 464.03,338.71 464.70,338.82 465.37,338.92 466.04,339.03 466.71,339.13 467.38,339.24 468.04,339.34 468.71,339.44 469.38,339.54 470.05,339.64 470.72,339.74 471.39,339.83 472.06,339.93 472.73,340.03 473.40,340.12 474.06,340.21 474.73,340.30 475.40,340.40 476.07,340.49 476.74,340.58 477.41,340.66 478.08,340.75 478.75,340.84 479.42,340.92 480.08,341.01 480.75,341.09 481.42,341.18 482.09,341.26 482.76,341.34 483.43,341.42 484.10,341.50 484.77,341.58 485.43,341.66 486.10,341.74 486.77,341.82 487.44,341.89 488.11,341.97 488.78,342.04 489.45,342.12 490.12,342.19 490.79,342.27 491.45,342.34 492.12,342.41 492.79,342.48 493.46,342.55 494.13,342.62 494.80,342.69 495.47,342.76 496.14,342.83 496.81,342.90 497.47,342.96 498.14,343.03 498.81,343.10 499.48,343.16 500.15,343.23 500.82,343.29 501.49,343.35 502.16,343.42 502.82,343.48 503.49,343.54 504.16,343.60 504.83,343.66 505.50,343.72" fill="none" stroke="#c8102e" stroke-width="0.8" opacity="0.95"/>
<polyline points="372.40,267.30 373.07,267.38 373.74,267.61 374.41,267.96 375.08,268.43 375.74,269.01 376.41,269.69 377.08,270.46 377.75,271.32 378.42,272.26 379.09,273.27 379.76,274.33 380.43,275.46 381.09,276.62 381.76,277.83 382.43,279.06 383.10,280.33 383.77,281.61 384.44,282.90 385.11,284.20 385.78,285.50 386.45,286.80 387.11,288.10 387.78,289.38 388.45,290.65 389.12,291.91 389.79,293.15 390.46,294.37 391.13,295.57 391.80,296.74 392.47,297.90 393.13,299.02 393.80,300.12 394.47,301.20 395.14,302.24 395.81,303.26 396.48,304.26 397.15,305.23 397.82,306.17 398.48,307.08 399.15,307.97 399.82,308.83 400.49,309.67 401.16,310.48 401.83,311.27 402.50,312.04 403.17,312.78 403.84,313.50 404.50,314.20 405.17,314.87 405.84,315.53 406.51,316.16 407.18,316.78 407.85,317.38 408.52,317.96 409.19,318.52 409.86,319.06 410.52,319.59 411.19,320.10 411.86,320.60 412.53,321.08 413.20,321.55 413.87,322.00 414.54,322.44 415.21,322.86 415.87,323.28 416.54,323.68 417.21,324.07 417.88,324.45 418.55,324.81 419.22,325.17 419.89,325.52 420.56,325.85 421.23,326.18 421.89,326.50 422.56,326.80 423.23,327.10 423.90,327.40 424.57,327.68 425.24,327.96 425.91,328.22 426.58,328.48 427.25,328.74 427.91,328.99 428.58,329.23 429.25,329.46 429.92,329.69 430.59,329.91 431.26,330.13 431.93,330.34 432.60,330.54 433.26,330.74 433.93,330.94 434.60,331.13 435.27,331.31 435.94,331.50 436.61,331.67 437.28,331.84 437.95,332.01 438.62,332.18 439.28,332.34 439.95,332.49 440.62,332.64 441.29,332.79 441.96,332.94 442.63,333.08 443.30,333.22 443.97,333.36 444.64,333.49 445.30,333.62 445.97,333.74 446.64,333.87 447.31,333.99 447.98,334.11 448.65,334.22 449.32,334.34 449.99,334.45 450.65,334.56 451.32,334.66 451.99,334.77 452.66,334.87 453.33,334.97 454.00,335.07 454.67,335.16 455.34,335.26 456.01,335.35 456.67,335.44 457.34,335.52 458.01,335.61 458.68,335.70 459.35,335.78 460.02,335.86 460.69,335.94 461.36,336.02 462.03,336.09 462.69,336.17 463.36,336.24 464.03,336.32 464.70,336.39 465.37,336.46 466.04,336.52 466.71,336.59 467.38,336.66 468.04,336.72 468.71,336.79 469.38,336.85 470.05,336.91 470.72,336.97 471.39,337.03 472.06,337.09 472.73,337.14 473.40,337.20 474.06,337.25 474.73,337.31 475.40,337.36 476.07,337.41 476.74,337.46 477.41,337.51 478.08,337.56 478.75,337.61 479.42,337.66 480.08,337.71 480.75,337.75 481.42,337.80 482.09,337.84 482.76,337.89 483.43,337.93 484.10,337.97 484.77,338.02 485.43,338.06 486.10,338.10 486.77,338.14 487.44,338.18 488.11,338.22 488.78,338.26 489.45,338.29 490.12,338.33 490.79,338.37 491.45,338.40 492.12,338.44 492.79,338.47 493.46,338.51 494.13,338.54 494.80,338.57 495.47,338.61 496.14,338.64 496.81,338.67 497.47,338.70 498.14,338.73 498.81,338.76 499.48,338.79 500.15,338.82 500.82,338.85 501.49,338.88 502.16,338.91 502.82,338.94 503.49,338.97 504.16,338.99 504.83,339.02 505.50,339.05" fill="none" stroke="#c8102e" stroke-width="0.8" opacity="0.95"/>
<path d="M380.72,290.86 L380.72,307.33 M378.52,290.86 L382.92,290.86 M378.52,307.33 L382.92,307.33" stroke="#c8102e" stroke-width="0.8" fill="none" opacity="0.6"/>
<path d="M389.04,294.73 L389.04,308.30 M386.84,294.73 L391.24,294.73 M386.84,308.30 L391.24,308.30" stroke="#c8102e" stroke-width="0.8" fill="none" opacity="0.6"/>
<path d="M380.72,279.23 L380.72,290.86 M378.52,279.23 L382.92,279.23 M378.52,290.86 L382.92,290.86" stroke="#c8102e" stroke-width="0.8" fill="none" opacity="0.6"/>
<path d="M438.95,316.05 L438.95,358.40 M436.75,316.05 L441.15,316.05 M436.75,358.40 L441.15,358.40" stroke="#c8102e" stroke-width="0.8" fill="none" opacity="0.6"/>
<path d="M505.50,310.72 L505.50,364.50 M503.30,310.72 L507.70,310.72 M503.30,364.50 L507.70,364.50" stroke="#c8102e" stroke-width="0.8" fill="none" opacity="0.6"/>
<path d="M405.67,318.96 L405.67,325.74 M403.47,318.96 L407.87,318.96 M403.47,325.74 L407.87,325.74" stroke="#c8102e" stroke-width="0.8" fill="none" opacity="0.6"/>
<path d="M438.95,322.06 L438.95,328.84 M436.75,322.06 L441.15,322.06 M436.75,328.84 L441.15,328.84" stroke="#c8102e" stroke-width="0.8" fill="none" opacity="0.6"/>
<circle cx="372.40" cy="267.60" r="2.40" fill="#c8102e"/>
<circle cx="380.72" cy="284.07" r="2.40" fill="#c8102e"/>
<circle cx="389.04" cy="298.41" r="2.40" fill="#c8102e"/>
<circle cx="405.67" cy="329.62" r="2.40" fill="#c8102e"/>
<circle cx="438.95" cy="347.35" r="2.40" fill="#c8102e"/>
<circle cx="505.50" cy="349.48" r="2.40" fill="#c8102e"/>
<rect x="378.42" y="263.36" width="4.60" height="4.60" fill="#c8102e"/>
<rect x="386.74" y="272.08" width="4.60" height="4.60" fill="#c8102e"/>
<rect x="403.37" y="300.18" width="4.60" height="4.60" fill="#c8102e"/>
<rect x="436.65" y="323.15" width="4.60" height="4.60" fill="#c8102e"/>
<rect x="503.20" y="336.52" width="4.60" height="4.60" fill="#c8102e"/>
<path d="M378.12,301.09 L383.32,301.09 L380.72,296.59Z" fill="#c8102e"/>
<path d="M386.44,302.45 L391.64,302.45 L389.04,297.95Z" fill="#c8102e"/>
<path d="M403.07,324.73 L408.27,324.73 L405.67,320.23Z" fill="#c8102e"/>
<path d="M436.35,339.27 L441.55,339.27 L438.95,334.77Z" fill="#c8102e"/>
<path d="M502.90,344.11 L508.10,344.11 L505.50,339.61Z" fill="#c8102e"/>
<path d="M378.12,273.45 L383.32,273.45 L380.72,277.95Z" fill="#c8102e"/>
<path d="M386.44,290.22 L391.64,290.22 L389.04,294.72Z" fill="#c8102e"/>
<path d="M403.07,313.67 L408.27,313.67 L405.67,318.17Z" fill="#c8102e"/>
<path d="M436.35,331.40 L441.55,331.40 L438.95,335.90Z" fill="#c8102e"/>
<path d="M502.90,339.05 L508.10,339.05 L505.50,343.55Z" fill="#c8102e"/>
<circle cx="372.40" cy="267.60" r="2.40" fill="#c8102e"/>
<line x1="453.50" y1="265.10" x2="465.70" y2="265.10" stroke="#c8102e" stroke-width="0.9"/>
<circle cx="459.70" cy="265.10" r="2.04" fill="#c8102e"/>
<text transform="translate(468.80,268.10) scale(0.92,1)" font-size="8.5" text-anchor="start" font-weight="normal" fill="#231f20"  stroke="#231f20" stroke-width="0.12">MM1.S</text>
<line x1="453.50" y1="275.50" x2="465.70" y2="275.50" stroke="#c8102e" stroke-width="0.9"/>
<rect x="457.75" y="273.55" width="3.91" height="3.91" fill="#c8102e"/>
<text transform="translate(468.80,278.50) scale(0.92,1)" font-size="8.5" text-anchor="start" font-weight="normal" fill="#231f20"  stroke="#231f20" stroke-width="0.12">NCI-H929</text>
<line x1="453.50" y1="286.00" x2="465.70" y2="286.00" stroke="#c8102e" stroke-width="0.9"/>
<path d="M457.49,287.62 L461.91,287.62 L459.70,283.79Z" fill="#c8102e"/>
<text transform="translate(468.80,289.00) scale(0.92,1)" font-size="8.5" text-anchor="start" font-weight="normal" fill="#231f20"  stroke="#231f20" stroke-width="0.12">OPM-2</text>
<line x1="453.50" y1="296.20" x2="465.70" y2="296.20" stroke="#c8102e" stroke-width="0.9"/>
<path d="M457.49,294.58 L461.91,294.58 L459.70,298.41Z" fill="#c8102e"/>
<text transform="translate(468.80,299.20) scale(0.92,1)" font-size="8.5" text-anchor="start" font-weight="normal" fill="#231f20"  stroke="#231f20" stroke-width="0.12">U266B1</text>
</svg>
</body></html>
